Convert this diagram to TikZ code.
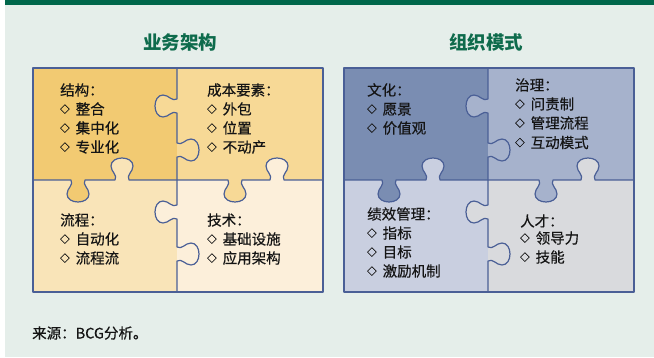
\documentclass[tikz,border=0pt]{standalone}
\usepackage{fontspec}
\setmainfont{Noto Sans CJK SC}
\newfontfamily\bodyfont{Noto Sans CJK SC}[FakeBold=0.45]
\definecolor{bgc}{HTML}{E5EEEA}
\definecolor{barc}{HTML}{00674B}
\definecolor{titc}{HTML}{0E6B4C}
\definecolor{edgec}{HTML}{4A5F96}
\definecolor{ytl}{HTML}{F2CA72}
\definecolor{ytr}{HTML}{F7D996}
\definecolor{ybl}{HTML}{F9E4B8}
\definecolor{ybr}{HTML}{FCEFDA}
\definecolor{btl}{HTML}{7A8DB2}
\definecolor{btr}{HTML}{A6B2CC}
\definecolor{bbl}{HTML}{C9CFE0}
\definecolor{bbr}{HTML}{D9DADD}
\definecolor{txtc}{HTML}{151515}
\newcommand\bul{\makebox[15.5pt][l]{\raisebox{1.8pt}{\fontsize{9.5}{9.5}\selectfont ◇}}}
\tikzset{
 knobdown/.style 2 args={insert path={ -- ({#1-7},#2) .. controls ({#1-4},{#2+5}) and ({#1-11},{#2+8}) .. ({#1-11},{#2+14}) .. controls ({#1-11},{#2+19}) and ({#1-6},{#2+22}) .. (#1,{#2+22}) .. controls ({#1+6},{#2+22}) and ({#1+11},{#2+19}) .. ({#1+11},{#2+14}) .. controls ({#1+11},{#2+8}) and ({#1+4},{#2+5}) .. ({#1+7},#2)}},
 knobup/.style 2 args={insert path={ -- ({#1-7},#2) .. controls ({#1-4},{#2-5}) and ({#1-11},{#2-8}) .. ({#1-11},{#2-14}) .. controls ({#1-11},{#2-19}) and ({#1-6},{#2-22}) .. (#1,{#2-22}) .. controls ({#1+6},{#2-22}) and ({#1+11},{#2-19}) .. ({#1+11},{#2-14}) .. controls ({#1+11},{#2-8}) and ({#1+4},{#2-5}) .. ({#1+7},#2)}},
 knobleft/.style 2 args={insert path={ -- (#2,{#1-7}) .. controls ({#2-5},{#1-4}) and ({#2-8},{#1-11}) .. ({#2-14},{#1-11}) .. controls ({#2-19},{#1-11}) and ({#2-22},{#1-6}) .. ({#2-22},#1) .. controls ({#2-22},{#1+6}) and ({#2-19},{#1+11}) .. ({#2-14},{#1+11}) .. controls ({#2-8},{#1+11}) and ({#2-5},{#1+4}) .. (#2,{#1+7})}},
 knobright/.style 2 args={insert path={ -- (#2,{#1-7}) .. controls ({#2+5},{#1-4}) and ({#2+8},{#1-11}) .. ({#2+14},{#1-11}) .. controls ({#2+19},{#1-11}) and ({#2+22},{#1-6}) .. ({#2+22},#1) .. controls ({#2+22},{#1+6}) and ({#2+19},{#1+11}) .. ({#2+14},{#1+11}) .. controls ({#2+8},{#1+11}) and ({#2+5},{#1+4}) .. (#2,{#1+7})}},
 seam/.style={draw=edgec, line width=1.2pt, line join=round},
 txt/.style={anchor=base west, inner sep=0pt, font=\bodyfont\fontsize{14.5}{17}\selectfont, text=txtc},
 titletxt/.style={anchor=base, inner sep=0pt, font=\fontsize{18.5}{20}\selectfont\bfseries, text=titc},
}
\newcommand\drawpuzzle[4]{%
 \fill[#1] (33,68) rectangle (177,180);
 \fill[#2] (177,68) rectangle (323,180);
 \fill[#3] (33,180) rectangle (177,292);
 \fill[#4] (177,180) rectangle (323,292);
 \fill[#2] (177,99) [knobleft={106}{177}] -- cycle;
 \fill[#1] (71,180) [knobdown={78}{180}] -- cycle;
 \fill[#3] (115,180) [knobup={122}{180}] -- cycle;
 \fill[#2] (228,180) [knobdown={235}{180}] -- cycle;
 \fill[#4] (270,180) [knobup={277}{180}] -- cycle;
 \fill[#4] (177,205) [knobleft={212}{177}] -- cycle;
 \path[seam] (177,68) [knobleft={106}{177}] [knobright={150}{177}] -- (177,180);
 \path[seam] (33,180) [knobdown={78}{180}] [knobup={122}{180}] [knobdown={235}{180}] [knobup={277}{180}] -- (323,180);
 \path[seam] (177,180) [knobleft={212}{177}] [knobright={254}{177}] -- (177,292);
 \path[seam] (33,68) rectangle (323,292);
}
\begin{document}
\begin{tikzpicture}[x=1pt, y=-1pt]
\useasboundingbox (0,0) rectangle (654,357);
\fill[white] (0,0) rectangle (654,357);
\fill[bgc] (5,0) rectangle (654,357);
\fill[barc] (5,0) rectangle (654,5);

\node[titletxt] (t1) at (180,49) {业务架构};
\node[titletxt] (t2) at (486,49) {组织模式};

\drawpuzzle{ytl}{ytr}{ybl}{ybr}
\begin{scope}[shift={(311,0)}]
\drawpuzzle{btl}{btr}{bbl}{bbr}
\end{scope}

% left puzzle texts
\node[txt] (a0) at (60,95.5) {结构：};
\node[txt] (a1) at (60,114.5) {\bul 整合};
\node[txt] (a2) at (60,133.5) {\bul 集中化};
\node[txt] (a3) at (60,152.5) {\bul 专业化};

\node[txt] (b0) at (207,95.5) {成本要素：};
\node[txt] (b1) at (207,114.5) {\bul 外包};
\node[txt] (b2) at (207,133.5) {\bul 位置};
\node[txt] (b3) at (207,152.5) {\bul 不动产};

\node[txt] (c0) at (60,225.5) {流程：};
\node[txt] (c1) at (60,244.5) {\bul 自动化};
\node[txt] (c2) at (60,263.5) {\bul 流程流};

\node[txt] (d0) at (207,225.5) {技术：};
\node[txt] (d1) at (207,244.5) {\bul 基础设施};
\node[txt] (d2) at (207,263.5) {\bul 应用架构};

% right puzzle texts
\node[txt] (e0) at (367,95.5) {文化：};
\node[txt] (e1) at (367,114.5) {\bul 愿景};
\node[txt] (e2) at (367,133.5) {\bul 价值观};

\node[txt] (f0) at (515,90.5) {治理：};
\node[txt] (f1) at (515,109.5) {\bul 问责制};
\node[txt] (f2) at (515,128.5) {\bul 管理流程};
\node[txt] (f3) at (515,148) {\bul 互动模式};

\node[txt] (g0) at (367,219.5) {绩效管理：};
\node[txt] (g1) at (367,238.5) {\bul 指标};
\node[txt] (g2) at (367,257.5) {\bul 目标};
\node[txt] (g3) at (367,276.5) {\bul 激励机制};

\node[txt] (h0) at (520,226.5) {人才：};
\node[txt] (h1) at (520,243.5) {\bul 领导力};
\node[txt] (h2) at (520,262.5) {\bul 技能};

\node[txt] (src) at (32,338.5) {来源：BCG分析。};
\end{tikzpicture}
\end{document}
